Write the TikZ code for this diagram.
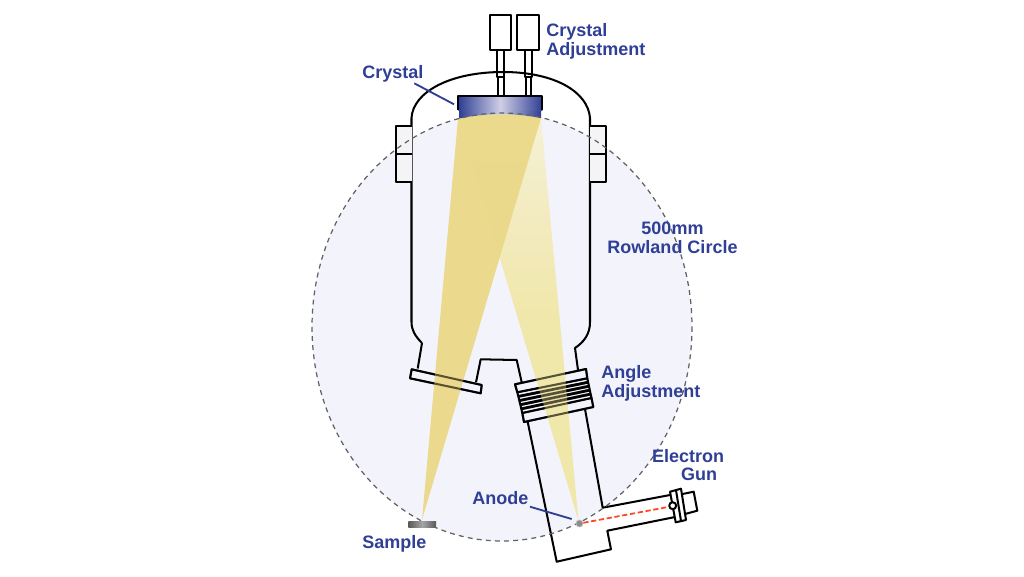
\documentclass[tikz,border=0pt]{standalone}
\usepackage{fontspec}
\setmainfont{Liberation Sans}
\definecolor{labelblue}{HTML}{2F3F95}
\definecolor{circlefill}{HTML}{F3F3FC}
\definecolor{beamdark}{HTML}{EBD888}
\definecolor{beamlight}{HTML}{F0E6A2}
\definecolor{beamtop}{HTML}{F6F1D2}
\definecolor{crystaldark}{HTML}{2E3E94}
\definecolor{crystallight}{HTML}{CFCFE6}
\definecolor{earfill}{HTML}{F4F4F6}
\tikzset{
  label/.style={font=\fontsize{10.25}{11}\selectfont\bfseries,text=labelblue,inner sep=0pt},
  wall/.style={line width=1.15pt,black,line join=round},
  ring/.style={line width=1.5pt,black},
  leader/.style={line width=1.05pt,labelblue}
}
\newcommand{\flangelines}[1]{
   \draw [wall,#1] (411.7,369.3) -- (481.7,385) -- (480.7,393.3) -- (410,378.3) -- cycle;
   \draw [wall,#1] (515,384.3) -- (586,369) -- (587.3,378.3) -- (517.3,392.3) -- cycle;
   \draw [wall,#1] (522.3,413) -- (591.5,398) -- (593.3,407) -- (524,422) -- cycle;
   \foreach \t in {0.2,0.4,0.6,0.8}
     \draw [ring,#1] ({517.3+\t*5},{392.3+\t*20.7}) -- ({587.3+\t*4.2},{378.3+\t*19.7});
}
\begin{document}
\begin{tikzpicture}[x=0.02cm,y=-0.02cm]
   \useasboundingbox (0,0) rectangle (1024,576);
   \fill [circlefill] (502,327) ellipse [x radius=190,y radius=214];
   % vessel
   \draw [wall] (422,343) .. controls (415,336) and (411.5,330) .. (411.5,322) -- (411.5,118)
    .. controls (413,92) and (450,72) .. (503,72) .. controls (555,72) and (588,92) .. (590,118)
    -- (590,322) .. controls (590,334) and (584,342) .. (575,348) -- (578,370);
   \draw [wall] (422,343) -- (417.7,368.5);
   \draw [wall] (476,382.3) -- (480.7,359.3) -- (516.7,360) -- (521.7,382.3);
   % side blocks
   \draw [wall,fill=earfill] (411.5,126) -- (395.7,126) -- (395.7,182) -- (411.5,182);
   \draw [wall] (395.7,154) -- (411.5,154);
   \draw [wall,fill=earfill] (590,126) -- (606,126) -- (606,182) -- (590,182);
   \draw [wall] (590,154) -- (606,154);
   % crystal adjustment
   \draw [wall] (489.7,15) rectangle (511.3,50);
   \draw [wall] (517.3,15) rectangle (539,50);
   \draw [wall] (496.7,50) rectangle (504.3,77);
   \draw [wall] (525,50) rectangle (532.3,77);
   \draw [wall] (498,77) rectangle (503.7,96);
   \draw [wall] (526,77) rectangle (531.3,96);
   % tube and rings
   \draw [wall] (527.5,421) -- (556.7,561.7) -- (611,549.3) -- (607.3,530.7) -- (675,517);
   \draw [wall] (585,409) -- (602.7,507.7) -- (670,495);
   \draw [wall] (517.3,392.3) -- (522.3,413);
   \draw [wall] (587.3,378.3) -- (591.5,398);
   \flangelines{}
   % beams
   \shade [top color=beamtop,bottom color=beamlight,middle color=beamlight,fill opacity=0.9]
    (458,118.5) .. controls (485,113) and (515,113) .. (541,118) -- (578.5,521) -- cycle;
   \fill [beamdark,fill opacity=0.94]
    (458,118.5) .. controls (485,113) and (515,113) .. (541,118) -- (422,520) -- cycle;
   \flangelines{draw opacity=0.6}
   % crystal
   \shade [left color=crystaldark,right color=crystaldark,middle color=crystallight]
    (459,110) -- (459,118.5) .. controls (485,113) and (515,113) .. (541,118) -- (541,110) -- cycle;
   \shade [left color=crystaldark,right color=crystaldark,middle color=crystallight]
    (458.3,96) rectangle (542.3,110);
   \draw [wall] (458.3,110) -- (458.3,96) -- (542.3,96) -- (542.3,110);
   % rowland circle
   \draw [dash pattern=on 2.8pt off 2.4pt,line width=0.7pt,black!62] (502,327) ellipse [x radius=190,y radius=214];
   % sample
   \shade [left color=black!65,right color=black!65,middle color=black!35] (408.3,521) rectangle (436,527.3);
   % electron gun
   \draw [wall,fill=white] (681,494.3) -- (693.7,491.7) -- (697.3,510.7) -- (685,514);
   \draw [wall,fill=white] (670,491.7) -- (681,488.7) -- (686,520) -- (675.7,522.3) -- cycle;
   \draw [wall] (676,490.2) -- (681,521);
   \draw [wall,fill=white] (672.7,505.7) circle (3.5);
   \node (anode) [circle,fill=black!45,draw=black!25,inner sep=0pt,minimum size=4pt] at (579.5,523.5) {};
   \coordinate (gunend) at (668,507);
   \draw [dash pattern=on 3pt off 1.5pt,line width=1pt,red!70!orange!85!white] (anode) -- (gunend);
   % labels
   \node (crystal) [label,anchor=west] at (362,73.5) {Crystal};
   \node (adjust) [label,anchor=west,align=left] at (546,41) {Crystal\\[-0.3pt]Adjustment};
   \node (rowland) [label,align=center] at (672.5,238) {500mm\\[-0.3pt]Rowland Circle};
   \node (angle) [label,anchor=west,align=left] at (601,383) {Angle\\[-0.3pt]Adjustment};
   \node (electron) [label,align=right,anchor=east] at (724.5,465) {Electron\\[-0.3pt]Gun\hspace*{4pt}};
   \node (anodetext) [label,anchor=west] at (472,498.5) {Anode};
   \node (sample) [label,anchor=west] at (362,543.5) {Sample};
   % leaders
   \coordinate (crystalin) at (454,104.3);
   \coordinate (crystalout) at (414.3,83.3);
   \coordinate (anodein) at (571.7,519);
   \coordinate (anodeout) at (530,506.7);
   \draw [leader] (crystalout) -- (crystalin);
   \draw [leader] (anodeout) -- (anodein);
  \end{tikzpicture}
\end{document}
